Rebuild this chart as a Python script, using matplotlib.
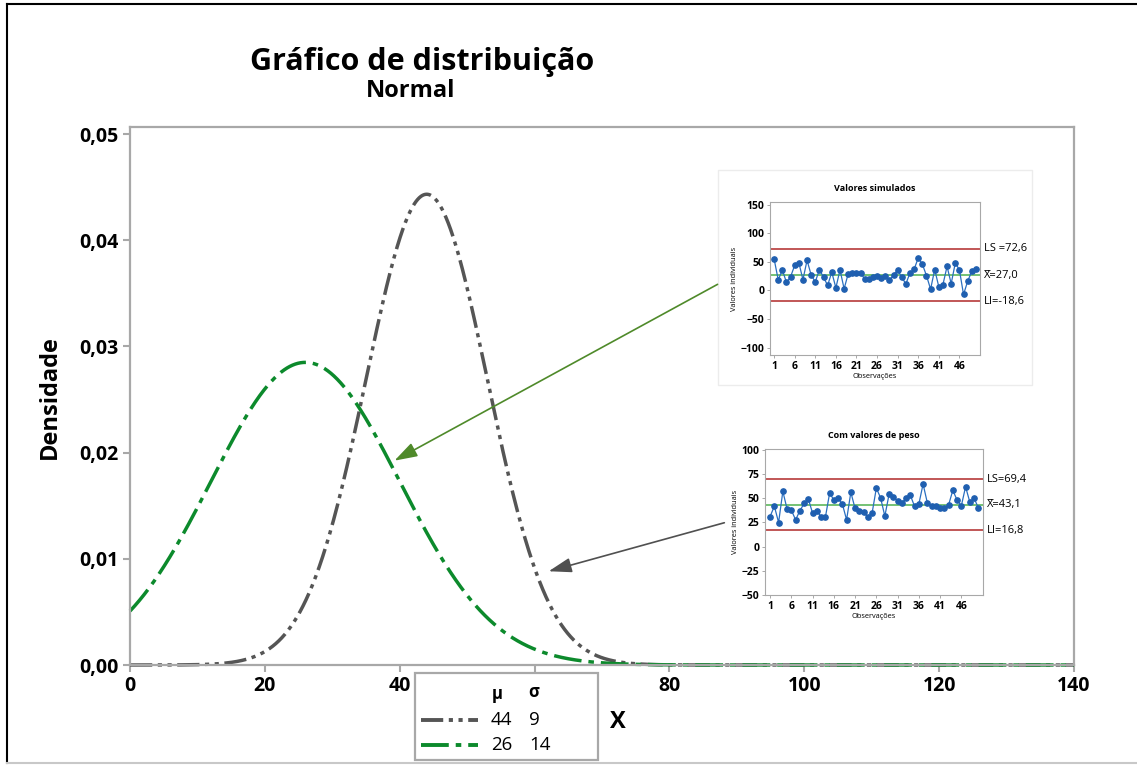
import numpy as np
import matplotlib
matplotlib.use("Agg")
import matplotlib.pyplot as plt
from matplotlib.patches import Rectangle, FancyArrowPatch
from matplotlib.lines import Line2D
from matplotlib.ticker import FuncFormatter

plt.rcParams['font.family'] = ['Open Sans', 'DejaVu Sans']
plt.rcParams['lines.scale_dashes'] = False

# ---------------- data ----------------
mus = [44, 26]
sigmas = [9, 14]
curve_colors = ['#555555', '#0c8a2c']
curve_dashes = [(0, (16, 4, 3, 4, 3, 4)), (0, (20, 5, 4, 5))]

x_ticks = [0, 20, 40, 60, 80, 100, 120, 140]
x_ticklabels = ['0', '20', '40', '', '80', '100', '120', '140']  # "60" is hidden behind the legend
y_ticks = [0.00, 0.01, 0.02, 0.03, 0.04, 0.05]

# inset 1: "Valores simulados"
sim_values = [55, 18.5, 36, 14, 24, 44, 48.7, 19, 52.7, 27,
              15, 36.5, 23, 9, 32, 4.6, 36, 3, 29.5, 31,
              30, 30.7, 20, 20, 24, 26, 22, 25, 18.5, 27,
              36, 23, 11.6, 30.7, 37, 57, 46, 26, 2.3, 36.5,
              6.4, 10.4, 42, 12, 48, 36, -7, 16, 33.6, 37]
sim_limits = {'LS': 72.6, 'mean': 27.0, 'LI': -18.6}
sim_labels = ['LS =72,6', 'X\u0305=27,0', 'LI=-18,6']
sim_yticks = [150, 100, 50, 0, -50, -100]

# inset 2: "Com valores de peso"
peso_values = [31, 41.7, 24.8, 57, 38.6, 37.6, 27.6, 36.9, 44.5, 49,
               34.5, 36.6, 31, 30, 55, 48.3, 49.7, 44, 27.6, 56,
               39.3, 37.2, 35.5, 30.3, 34.5, 60.3, 50.3, 31.4, 54, 51.4,
               47.2, 45.2, 49.7, 53, 41.4, 43.8, 64.5, 45.2, 41.4, 42,
               40, 39.3, 43, 58, 48, 42, 61.7, 45.9, 50, 40]
peso_limits = {'LS': 69.4, 'mean': 43.1, 'LI': 16.8}
peso_labels = ['LS=69,4', 'X\u0305=43,1', 'LI=16,8']
peso_yticks = [100, 75, 50, 25, 0, -25, -50]

obs_ticks = [1, 6, 11, 16, 21, 26, 31, 36, 41, 46]

# ---------------- figure ----------------
W, H = 1137, 765
fig = plt.figure(figsize=(W / 100, H / 100), dpi=100)

def fx(px):
    return px / W

def fy(py):
    return 1 - py / H

def rect(l, t, r, b):
    return [fx(l), fy(b), fx(r) - fx(l), fy(t) - fy(b)]

# figure border
fig.add_artist(Line2D([fx(7), fx(7)], [fy(4), fy(763)], color='black', lw=1.5))
fig.add_artist(Line2D([fx(7), fx(1137)], [fy(4), fy(4)], color='black', lw=1.5))
fig.add_artist(Line2D([fx(7), fx(1137)], [fy(763), fy(763)], color='#c8c8c8', lw=1.5))

# main axes
ax = fig.add_axes(rect(130, 127, 1074, 665))
xs = np.linspace(0, 140, 2801)
for mu, sd, c, ls in zip(mus, sigmas, curve_colors, curve_dashes):
    pdf = np.exp(-0.5 * ((xs - mu) / sd) ** 2) / (sd * np.sqrt(2 * np.pi))
    ax.plot(xs, pdf, color=c, lw=2.5, linestyle=ls, solid_capstyle='butt',
            dash_capstyle='butt', clip_on=False)

ax.set_xlim(0, 140)
ax.set_ylim(0, 0.05066)
ax.set_xticks(x_ticks)
ax.set_xticklabels(x_ticklabels)
ax.set_yticks(y_ticks)
ax.yaxis.set_major_formatter(FuncFormatter(lambda v, p: f"{v:.2f}".replace('.', ',')))
for s in ax.spines.values():
    s.set_color('#a8a8a8')
    s.set_linewidth(1.6)
ax.tick_params(axis='both', direction='out', length=5, width=1.5, color='#a8a8a8',
               labelsize=14, labelcolor='black', pad=3)
for lab in ax.get_xticklabels() + ax.get_yticklabels():
    lab.set_fontweight('bold')

fig.text(fx(50), fy(397), 'Densidade', rotation=90, ha='center', va='center',
         fontsize=17, fontweight='bold')
fig.text(fx(618), fy(722), 'X', ha='center', va='center', fontsize=17, fontweight='bold')

fig.text(fx(422), fy(62), 'Gráfico de distribuição', ha='center', va='center',
         fontsize=22, fontweight='bold')
fig.text(fx(411), fy(91), 'Normal', ha='center', va='center',
         fontsize=17, fontweight='bold')

# legend box
fig.add_artist(Rectangle((fx(415), fy(760)), fx(598) - fx(415), fy(673) - fy(760),
                         transform=fig.transFigure, facecolor='white',
                         edgecolor='#a8a8a8', lw=1.6, zorder=5))
fig.text(fx(497), fy(694), 'μ', ha='center', va='center', fontsize=12,
         fontweight='bold', zorder=6)
fig.text(fx(534), fy(692), 'σ', ha='center', va='center', fontsize=12,
         fontweight='bold', zorder=6)
for i, (mu, sd, c, ls) in enumerate(zip(mus, sigmas, curve_colors, curve_dashes)):
    yy = fy(720 + i * 25)
    fig.add_artist(Line2D([fx(421), fx(478)], [yy, yy], color=c, lw=2.8,
                          linestyle=ls, dash_capstyle='butt', zorder=6))
    fig.text(fx(491), yy, str(mu), ha='left', va='center', fontsize=13.5,
             zorder=6)
    fig.text(fx(529), yy, str(sd), ha='left', va='center', fontsize=13.5,
             zorder=6)

# inset helper
def control_chart(box, title, values, limits, labels, yticks, ylim, xlim, label_x, outer=None):
    if outer is not None:
        fig.add_artist(Rectangle((fx(outer[0]), fy(outer[3])), fx(outer[2]) - fx(outer[0]),
                                 fy(outer[1]) - fy(outer[3]), transform=fig.transFigure,
                                 facecolor='white', edgecolor='#ececec', lw=1.0, zorder=1))
    iax = fig.add_axes(rect(*box))
    iax.set_zorder(3)
    obs = np.arange(1, len(values) + 1)
    iax.axhline(limits['LS'], color='#b02828', lw=1.1)
    iax.axhline(limits['LI'], color='#b02828', lw=1.1)
    iax.axhline(limits['mean'], color='#5cb85c', lw=1.2)
    iax.plot(obs, values, color='#2a6fc0', lw=0.9, marker='o', markersize=3.8,
             markerfacecolor='#1f5fb0', markeredgecolor='#1f5fb0')
    iax.set_xlim(*xlim)
    iax.set_ylim(*ylim)
    iax.set_xticks(obs_ticks)
    iax.set_yticks(yticks)
    for s in iax.spines.values():
        s.set_color('#a8a8a8')
        s.set_linewidth(0.8)
    iax.tick_params(direction='out', length=2.5, width=0.7, color='#a8a8a8',
                    labelsize=7.5, pad=1.5)
    for lab in iax.get_xticklabels() + iax.get_yticklabels():
        lab.set_fontweight('bold')
    iax.set_title(title, fontsize=6.5, fontweight='bold', pad=8)
    iax.set_xlabel('Observações', fontsize=5.3, labelpad=1)
    iax.set_ylabel('Valores individuais', fontsize=5.3, labelpad=2)
    for key, lab in zip(['LS', 'mean', 'LI'], labels):
        iax.text(label_x, limits[key], lab, transform=iax.get_yaxis_transform(),
                 ha='left', va='center', fontsize=8)
    return iax

control_chart((770, 202, 980, 355), 'Valores simulados', sim_values, sim_limits,
              sim_labels, sim_yticks, (-112.7, 154.6), (0.0, 51.0), 1.02,
              outer=(718, 170, 1032, 385))
control_chart((765, 449, 983, 595), 'Com valores de peso', peso_values, peso_limits,
              peso_labels, peso_yticks, (-50, 100.7), (-0.2, 51.1), 1.02)

# arrows
astyle = '-|>,head_length=1.4,head_width=0.45'
fig.add_artist(FancyArrowPatch((fx(720), fy(283)), (fx(392), fy(462)),
                               transform=fig.transFigure, arrowstyle=astyle,
                               mutation_scale=10, color='#4f8a2a', lw=1.2, zorder=7))
fig.add_artist(FancyArrowPatch((fx(727), fy(522)), (fx(546), fy(572)),
                               transform=fig.transFigure, arrowstyle=astyle,
                               mutation_scale=10, color='#505050', lw=1.2, zorder=7))

fig.savefig('out.png', dpi=100)
